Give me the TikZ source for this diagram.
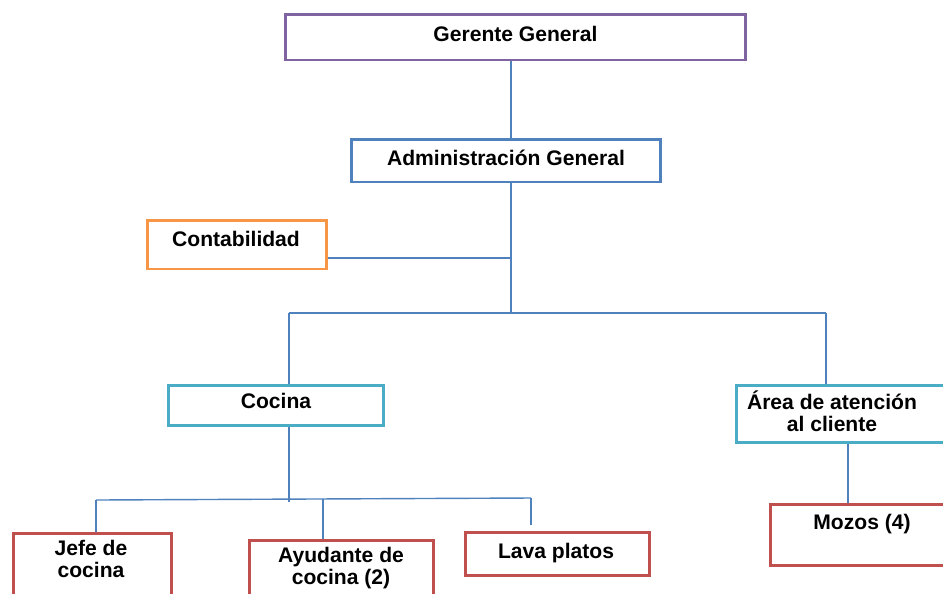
\documentclass[tikz,border=0pt]{standalone}
\usepackage{fontspec}
\setmainfont{Liberation Sans}
\definecolor{morado}{HTML}{8064A2}
\definecolor{azul}{HTML}{4F81BD}
\definecolor{naranja}{HTML}{F79646}
\definecolor{celeste}{HTML}{4BACC6}
\definecolor{rojo}{HTML}{C0504D}

\begin{document}
\begin{tikzpicture}[x=0.02cm,y=-0.02cm,
  caja/.style={draw=#1,line width=1.7pt,fill=white,rectangle,inner sep=0pt},
  texto/.style={font=\fontsize{12}{12}\selectfont\bfseries,align=center,inner sep=0pt,anchor=base},
  linea/.style={draw=azul,line width=0.8pt}]
\clip (0,0) rectangle (943,593);

% cajas
\node[caja=morado,minimum width=9.22cm,minimum height=0.92cm] (gerente) at (515.5,37) {};
\node[caja=azul,minimum width=6.2cm,minimum height=0.86cm] (admin) at (506,160.5) {};
\node[caja=naranja,minimum width=3.6cm,minimum height=0.98cm] (conta) at (237,244.5) {};
\node[caja=celeste,minimum width=4.32cm,minimum height=0.8cm] (cocina) at (276,405) {};
\node[caja=celeste,minimum width=4.34cm,minimum height=1.14cm] (area) at (845,413.5) {};
\node[caja=rojo,minimum width=3.18cm,minimum height=1.54cm] (jefe) at (92.5,571.5) {};
\node[caja=rojo,minimum width=3.7cm,minimum height=1.4cm] (ayud) at (341.5,575) {};
\node[caja=rojo,minimum width=3.7cm,minimum height=0.86cm] (lava) at (557.5,553.5) {};
\node[caja=rojo,minimum width=3.6cm,minimum height=1.22cm] (mozos) at (860,534.5) {};

% textos (en varias lineas: base = ultima linea)
\node[texto] (t-gerente) at (515.5,41) {Gerente General};
\node[texto] (t-admin) at (506,165) {Administración General};
\node[texto] (t-conta) at (236,246) {Contabilidad};
\node[texto] (t-cocina) at (276,408) {Cocina};
\node[texto] (t-area) at (832,431) {Área de atención\\al cliente};
\node[texto] (t-jefe) at (91,577) {Jefe de\\cocina};
\node[texto] (t-ayud) at (341,584) {Ayudante de\\cocina (2)};
\node[texto] (t-lava) at (556,558) {Lava platos};
\node[texto] (t-mozos) at (862,529) {Mozos (4)};

% uniones
\coordinate (hub) at (511,313);
\coordinate (conj) at (511,258);
\coordinate (lbus) at (289,313);
\coordinate (rbus) at (826,313);
\coordinate (kbus) at (289,499);
\coordinate (kl) at (96,500);
\coordinate (ka) at (323,499);
\coordinate (kr) at (531,498);
\coordinate (kre) at (531,525);
\coordinate (mz) at (848,470);

\draw[linea] (gerente.south -| hub) -- (admin.north -| hub);
\draw[linea] (admin.south -| hub) -- (hub);
\draw[linea] (conta.east |- conj) -- (conj);
\draw[linea] (lbus) -- (rbus);
\draw[linea] (lbus) -- (lbus |- cocina.north);
\draw[linea] (rbus) -- (rbus |- area.north);
\draw[linea] (lbus |- cocina.south) -- ([yshift=-0.06cm]kbus);
\draw[linea] (kl) -- (kr);
\draw[linea] (kl) -- (kl |- jefe.north);
\draw[linea] (ka) -- (ka |- ayud.north);
\draw[linea] (kr) -- (kre);
\draw[linea] (mz |- area.south) -- (mz |- mozos.north);
\end{tikzpicture}
\end{document}
